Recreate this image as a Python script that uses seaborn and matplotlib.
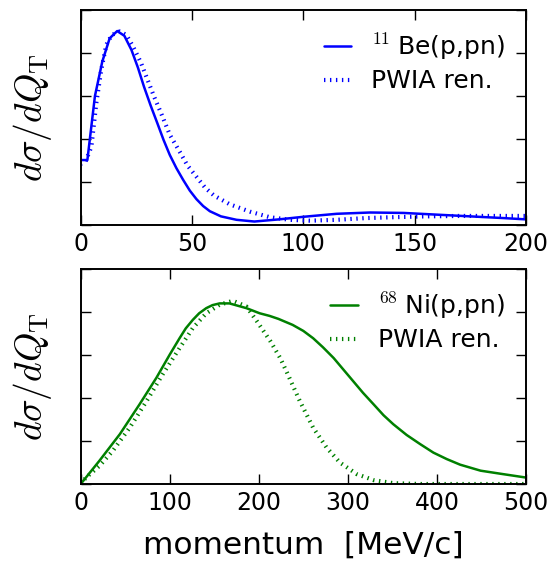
import numpy as np
import pandas as pd
import matplotlib
matplotlib.use("Agg")
import matplotlib.pyplot as plt
import seaborn as sns

# 11Be(p,pn): momentum distribution (arbitrary units)
be_p = [0, 3, 6.4, 9.7, 13.0, 16.4, 19.6, 22.8, 25.7, 28.4, 31.4, 34.4, 37.2,
        40, 43, 46, 49, 52, 55, 58, 63, 70, 78, 89, 100, 115, 130, 145, 160,
        175, 190, 200]
be_full = [1.51, 1.51, 3.0, 3.80, 4.34, 4.51, 4.40, 4.07, 3.66, 3.22, 2.78,
           2.37, 1.98, 1.63, 1.32, 1.05, 0.80, 0.60, 0.44, 0.32, 0.20, 0.12,
           0.08, 0.13, 0.19, 0.26, 0.29, 0.28, 0.24, 0.20, 0.16, 0.13]

be_pwia_p = [0, 2, 4.8, 7, 9.2, 11.5, 14, 17.5, 20.5, 23.5, 27, 30, 33, 36.5,
             40, 44.5, 48, 52, 56, 60, 67, 76, 85, 94, 103, 115, 128, 140,
             155, 170, 185, 200]
be_pwia = [1.42, 1.45, 1.82, 2.83, 3.6, 4.19, 4.42, 4.50, 4.42, 4.15, 3.78,
           3.38, 2.98, 2.55, 2.10, 1.70, 1.38, 1.12, 0.86, 0.68, 0.48, 0.31,
           0.18, 0.12, 0.10, 0.12, 0.16, 0.18, 0.20, 0.21, 0.21, 0.21]

# 68Ni(p,pn): momentum distribution (arbitrary units)
ni_p = [0, 21, 44, 66, 85, 100, 111, 118, 126, 133, 141, 148, 156, 167, 186,
        201, 212, 222, 238, 250, 261, 272, 284, 295, 306, 317, 329, 340, 351,
        366, 381, 396, 411, 426, 449, 471, 500]
ni_full = [0.0, 0.54, 1.16, 1.85, 2.47, 3.01, 3.39, 3.62, 3.82, 3.97, 4.09,
           4.16, 4.20, 4.20, 4.09, 3.97, 3.91, 3.84, 3.70, 3.56, 3.39, 3.18,
           2.93, 2.66, 2.39, 2.12, 1.85, 1.60, 1.39, 1.14, 0.93, 0.73, 0.58,
           0.45, 0.31, 0.24, 0.15]

ni_pwia_p = [0, 6, 21, 36, 55, 74, 92, 111, 126, 141, 156, 171, 186, 198, 213,
             224, 231, 246, 261, 276, 291, 310, 329, 351, 381, 420, 500]
ni_pwia = [0.0, 0.15, 0.42, 0.77, 1.31, 1.93, 2.55, 3.16, 3.63, 3.97, 4.17,
           4.26, 4.13, 3.78, 3.32, 2.93, 2.62, 1.93, 1.31, 0.85, 0.50, 0.23,
           0.09, 0.02, 0.0, 0.0, 0.0]

be_ticks = [0, 50, 100, 150, 200]
ni_ticks = [0, 100, 200, 300, 400, 500]
y_ticks = [0, 1, 2, 3, 4, 5]

sns.set_style("ticks")
plt.rcParams.update({
    "font.family": ["DejaVu Sans"],
    "mathtext.fontset": "cm",
    "text.color": "black",
    "axes.labelcolor": "black",
    "xtick.color": "black",
    "ytick.color": "black",
    "xtick.direction": "in",
    "ytick.direction": "in",
    "xtick.top": True,
    "ytick.right": True,
    "xtick.major.size": 7,
    "ytick.major.size": 7,
    "xtick.major.width": 1.0,
    "ytick.major.width": 1.0,
    "xtick.major.pad": 5,
    "axes.linewidth": 1.4,
    "axes.edgecolor": "black",
    "lines.scale_dashes": False,
    "lines.dash_capstyle": "butt",
})

fig = plt.figure(figsize=(5.6, 5.63), dpi=100)
ax1 = fig.add_axes([0.1441, 0.6004, 0.7952, 0.3819])
ax2 = fig.add_axes([0.1441, 0.1403, 0.7952, 0.3819])

dotted = (0, (1, 3.3))
ylab = r"$d\sigma/dQ_{\rm T}$"


def panel(ax, px, full, ppx, pwia, color, name, ticks, xmax):
    sns.lineplot(x=px, y=full, ax=ax, color=color, lw=1.8, label=name,
                 sort=False, estimator=None)
    sns.lineplot(x=ppx, y=pwia, ax=ax, color=color, lw=3.0, linestyle=dotted,
                 label="PWIA ren.", sort=False, estimator=None)
    ax.set_xlim(0, xmax)
    ax.set_ylim(0, 5)
    ax.set_xticks(ticks)
    ax.set_yticks(y_ticks)
    ax.set_yticklabels([])
    ax.tick_params(axis="x", labelsize=17)
    ax.set_ylabel(ylab, fontsize=27, labelpad=16)
    ax.set_xlabel("")
    ax.legend(loc="upper right", frameon=False, fontsize=18,
              handlelength=1.1, handletextpad=0.8, labelspacing=0.3,
              borderaxespad=0.45)


panel(ax1, be_p, be_full, be_pwia_p, be_pwia, "#0000ff",
      r"$^{11}\;$Be(p,pn)", be_ticks, 200)
panel(ax2, ni_p, ni_full, ni_pwia_p, ni_pwia, "#008000",
      r"$^{68}\;$Ni(p,pn)", ni_ticks, 500)

ax2.set_xlabel("momentum  [MeV/c]", fontsize=22.5, labelpad=11)

fig.savefig("out.png", dpi=100)
